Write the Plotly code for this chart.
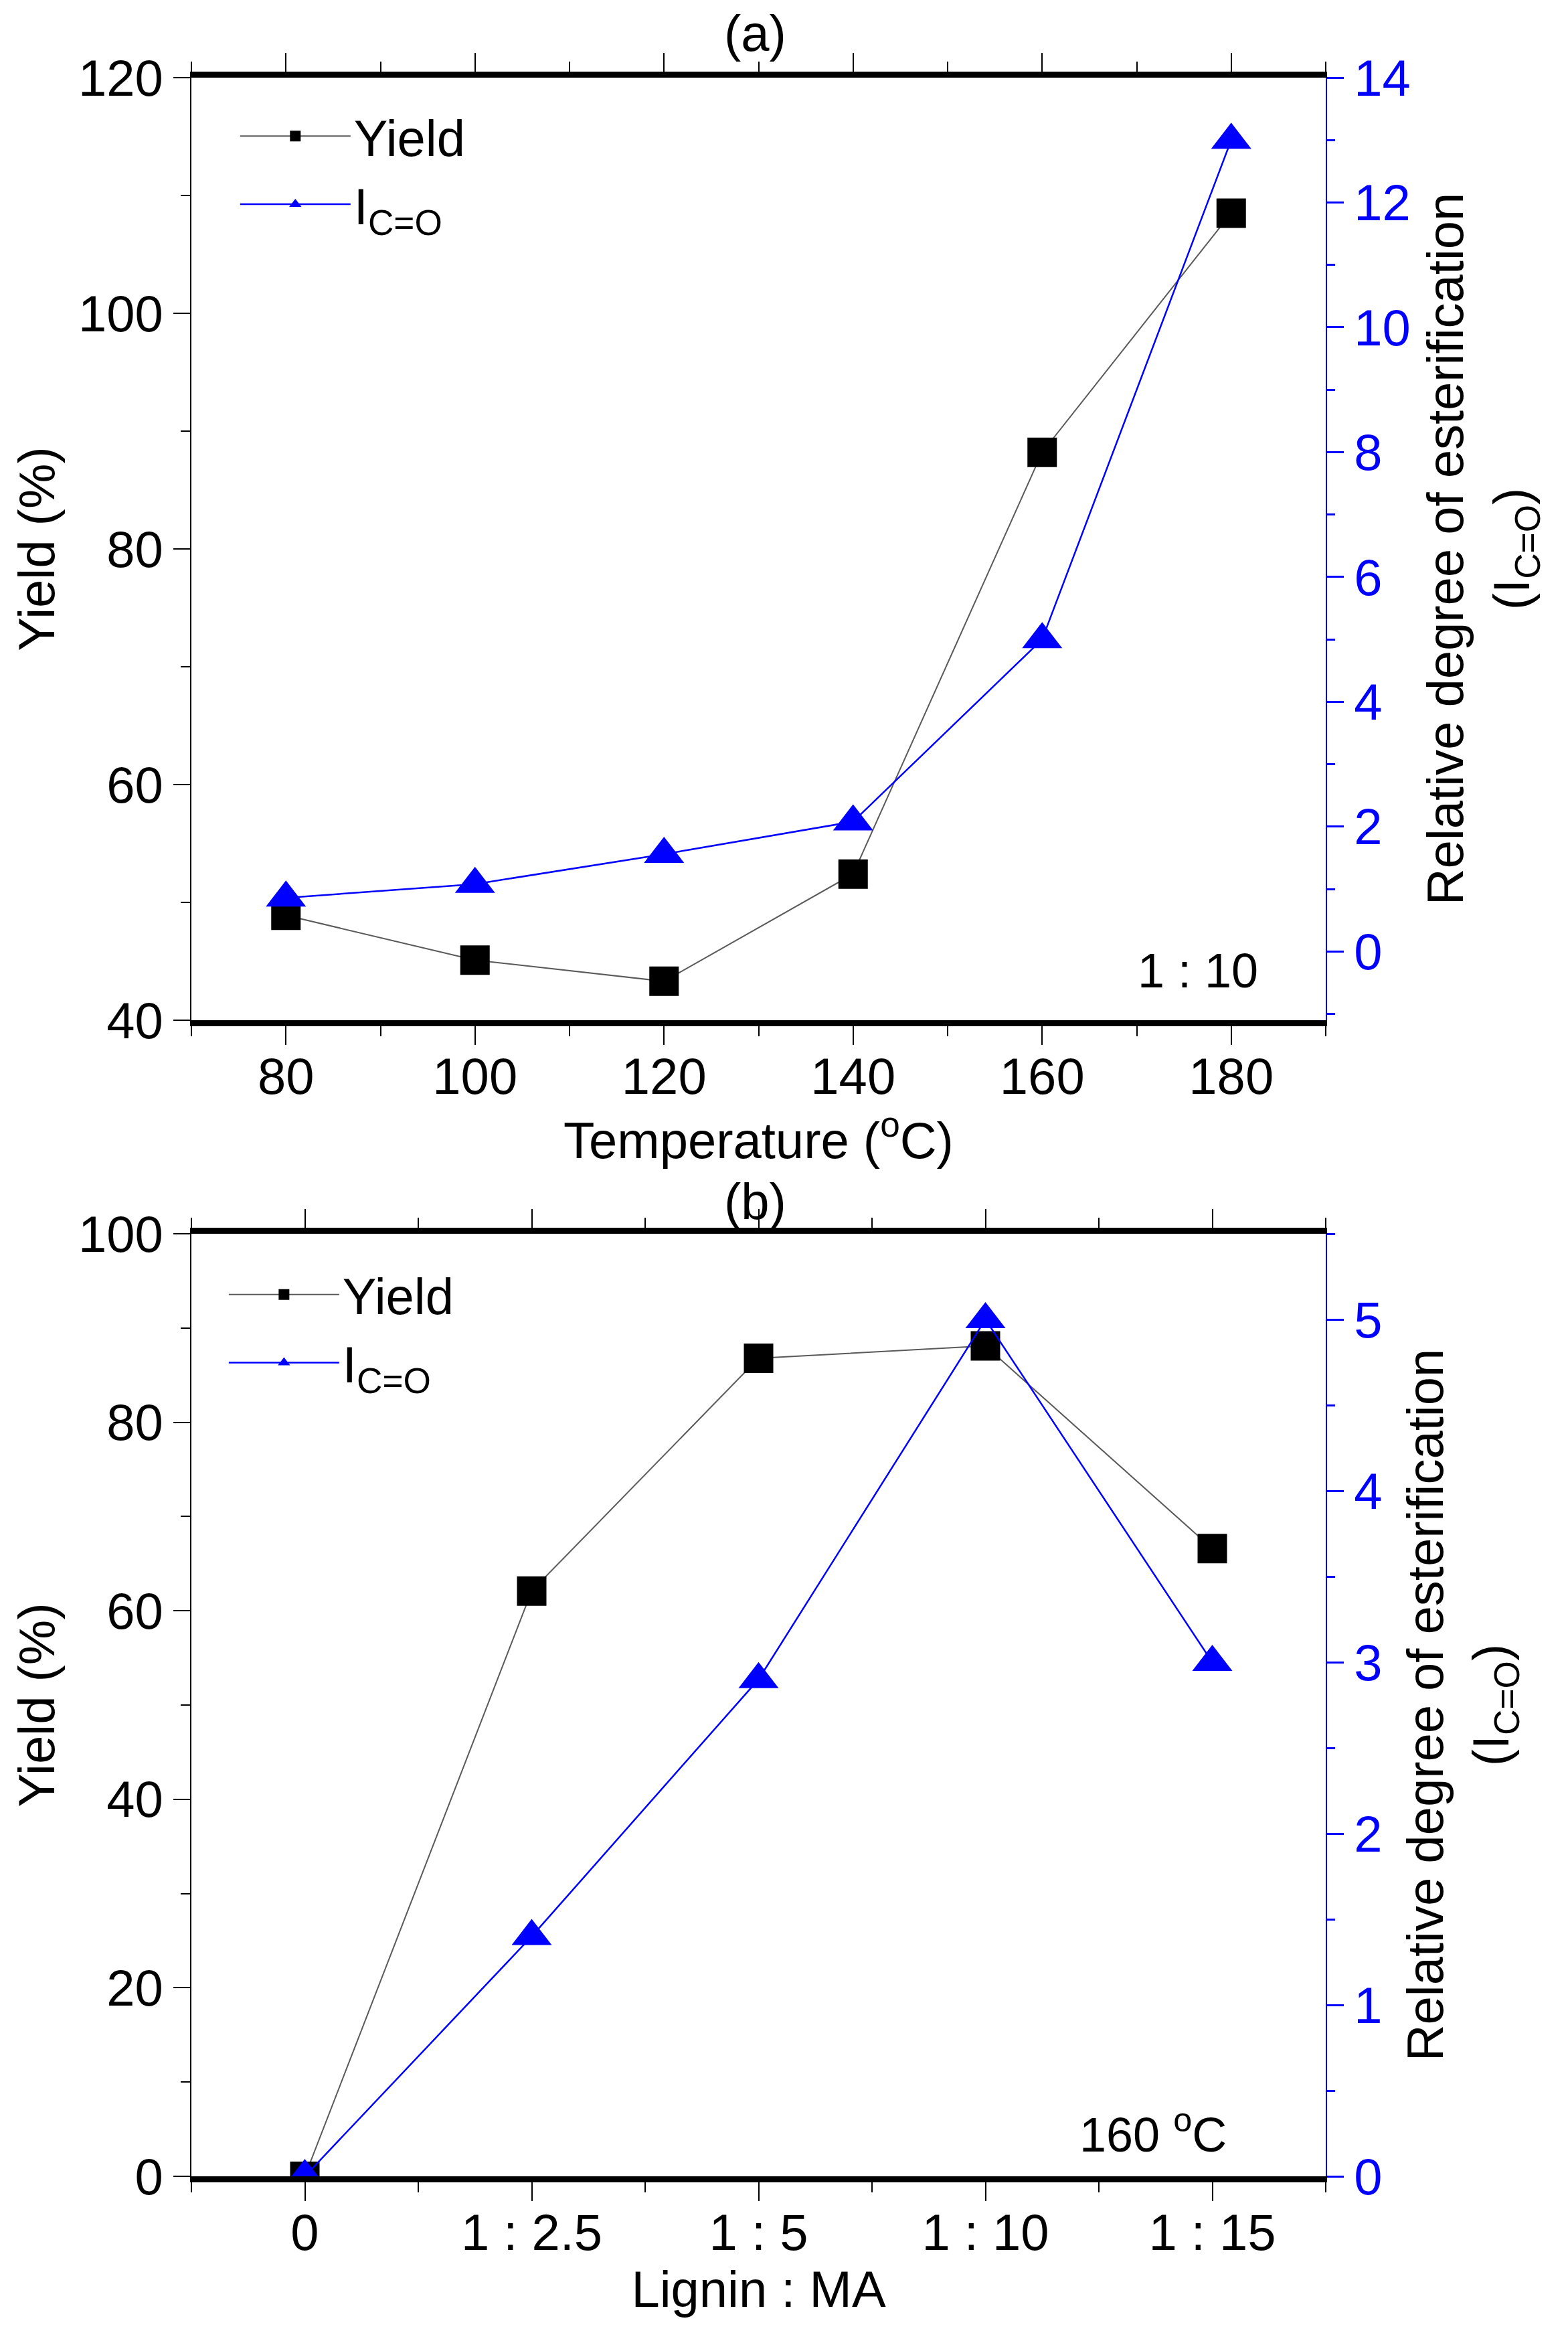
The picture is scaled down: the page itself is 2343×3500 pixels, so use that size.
import plotly.graph_objects as go

# ---- data ----
temps = [80, 100, 120, 140, 160, 180]
yield_a = [48.9, 45.1, 43.3, 52.4, 88.2, 108.5]
ico_a = [0.86, 1.08, 1.56, 2.08, 5.0, 13.0]

ratio_labels = ["0", "1 : 2.5", "1 : 5", "1 : 10", "1 : 15"]
ratio_pos = [0, 1, 2, 3, 4]
yield_b = [0.0, 62.1, 86.8, 88.1, 66.6]
ico_b = [0.0, 1.40, 2.90, 5.0, 3.0]

FONT = "Arial, Liberation Sans, sans-serif"
FS = 76
BLUE = "#0000FF"
GRAY = "#5a5a5a"

fig = go.Figure()

fig.add_trace(go.Scatter(x=temps, y=yield_a, name="Yield", mode="lines+markers",
                         line=dict(color=GRAY, width=2),
                         marker=dict(symbol="square", size=44, color="black"),
                         xaxis="x", yaxis="y", legend="legend"))
fig.add_trace(go.Scatter(x=temps, y=ico_a, name="I<sub>C=O</sub>", mode="lines+markers",
                         line=dict(color=BLUE, width=2.5),
                         marker=dict(symbol="triangle-up", size=52, color=BLUE),
                         xaxis="x", yaxis="y2", legend="legend"))
fig.add_trace(go.Scatter(x=ratio_pos, y=yield_b, name="Yield", mode="lines+markers",
                         line=dict(color=GRAY, width=2),
                         marker=dict(symbol="square", size=44, color="black"),
                         xaxis="x2", yaxis="y3", legend="legend2"))
fig.add_trace(go.Scatter(x=ratio_pos, y=ico_b, name="I<sub>C=O</sub>", mode="lines+markers",
                         line=dict(color=BLUE, width=2.5),
                         marker=dict(symbol="triangle-up", size=52, color=BLUE),
                         xaxis="x2", yaxis="y4", legend="legend2"))

DOM_A = [0.5509, 1.0]
DOM_B = [0.0, 0.4491]

def xbottom(rng, anchor, title, **kw):
    d = dict(range=rng, anchor=anchor, domain=[0, 1], showline=True, linewidth=9, linecolor="black",
             mirror="ticks", ticks="outside", ticklen=28, tickwidth=2, tickcolor="black",
             ticklabelstandoff=-18, showgrid=False, zeroline=False,
             tickfont=dict(size=FS, color="black"),
             title=dict(text=title, font=dict(size=FS), standoff=0))
    d.update(kw)
    return d

def yleft(rng, dom, anchor, dtick, mdtick):
    return dict(range=rng, domain=dom, anchor=anchor, showline=True, linewidth=2, linecolor="black",
                ticks="outside", ticklen=25, tickwidth=2, tickcolor="black", dtick=dtick,
                minor=dict(ticks="outside", ticklen=14, dtick=mdtick, tickwidth=2, tickcolor="black"),
                showgrid=False, zeroline=False, tickfont=dict(size=FS, color="black"),
                title=dict(text="Yield (%)", font=dict(size=FS), standoff=10))

def yright(rng, overlay, anchor, dtick, mdtick, standoff):
    return dict(range=rng, overlaying=overlay, anchor=anchor, side="right", showline=True, linewidth=2,
                linecolor=BLUE, ticks="outside", ticklen=25, tickwidth=3, tickcolor=BLUE,
                dtick=dtick, tick0=0,
                minor=dict(ticks="outside", ticklen=12, dtick=mdtick, tickwidth=3, tickcolor=BLUE),
                showgrid=False, zeroline=False, tickfont=dict(size=FS, color=BLUE),
                title=dict(text="Relative degree of esterification<br>(I<sub>C=O</sub>)",
                           font=dict(size=FS, color="black"), standoff=standoff))

MINOR_B = [-0.5, 0.5, 1.5, 2.5, 3.5, 4.5]

fig.update_layout(
    width=2343, height=3500,
    margin=dict(l=286, r=362, t=116, b=249),
    paper_bgcolor="white", plot_bgcolor="white",
    font=dict(family=FONT, size=FS, color="black"),
    xaxis=xbottom([70, 190], "y", "Temperature (<sup>o</sup>C)", dtick=20,
                  minor=dict(ticks="outside", ticklen=15, dtick=10, tickwidth=2, tickcolor="black")),
    yaxis=yleft([40, 120], DOM_A, "x", 20, 10),
    yaxis2=yright([-1.1, 14], "y", "x", 2, 1, 26),
    xaxis2=xbottom([-0.5, 4.5], "y3", "Lignin : MA", tickmode="array", tickvals=ratio_pos,
                   ticktext=ratio_labels,
                   minor=dict(ticks="outside", ticklen=15, tickvals=MINOR_B,
                              tickwidth=2, tickcolor="black")),
    yaxis3=yleft([0, 100], DOM_B, "x2", 20, 10),
    yaxis4=yright([0, 5.5], "y3", "x2", 1, 0.5, 38),
    legend=dict(x=0.04, y=0.99, xanchor="left", yanchor="top", bgcolor="rgba(0,0,0,0)",
                font=dict(size=FS), itemwidth=165, tracegroupgap=0),
    legend2=dict(x=0.03, y=0.438, xanchor="left", yanchor="top", bgcolor="rgba(0,0,0,0)",
                 font=dict(size=FS), itemwidth=165, tracegroupgap=0),
    showlegend=True,
)

fig.add_annotation(text="(a)", xref="paper", yref="paper", x=0.497, y=1.0, yanchor="bottom",
                   showarrow=False, font=dict(size=FS), yshift=22)
fig.add_annotation(text="(b)", xref="paper", yref="paper", x=0.497, y=0.4491, yanchor="bottom",
                   showarrow=False, font=dict(size=FS), yshift=4)
fig.add_annotation(text="1 : 10", xref="x", yref="y", x=176.5, y=44.2, showarrow=False,
                   font=dict(size=72))
fig.add_annotation(text="160 <sup>o</sup>C", xref="x2", yref="y3", x=3.74, y=4.8, showarrow=False,
                   font=dict(size=72))

fig.write_html("out.html")
